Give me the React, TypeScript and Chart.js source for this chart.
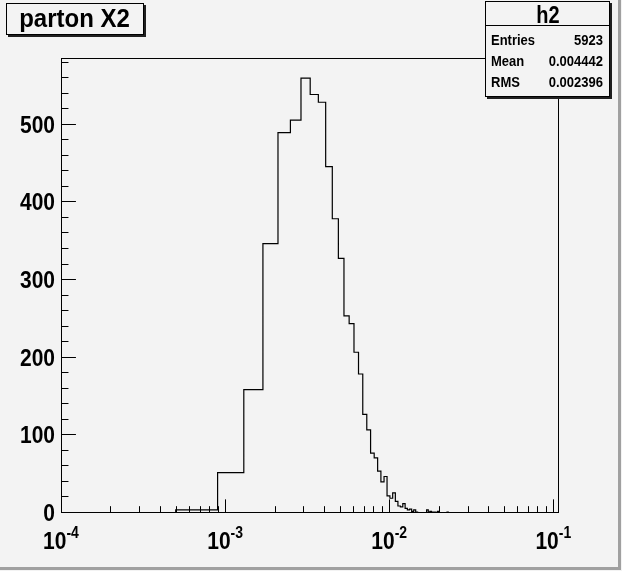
import { useEffect, useRef } from "react";
import { Chart, registerables } from "chart.js";

Chart.register(...registerables);

// Histogram binning (uniform bins) and contents
const binStart = 0.0001;
const binWidth = 0.0004;
const counts = [
  0, 4, 52, 159, 347, 490, 506, 560, 539, 529, 446, 379, 328, 254, 244, 207,
  179, 127, 107, 77, 71, 54, 40, 47, 22, 19, 26, 15, 9, 8, 12, 6, 4, 5, 2, 4,
  1, 0, 0, 0, 0, 0, 4, 1, 2, 1, 1, 1, 0, 2, 0, 0, 0, 0, 0, 0, 1, 0,
];
const yMajorTicks = [0, 100, 200, 300, 400, 500];
const yMinorStep = 20;
const xDecades = [-4, -3, -2, -1];
const xMin = 1e-4;
const xMax = 0.1083;
const yMax = 586;
const titleText = "parton X2";
const statsTitle = "h2";
const statsLabels = ["Entries", "Mean", "RMS"];
const statsValues = ["5923", "0.004442", "0.002396"];

const FONT = '"Liberation Sans", Arial, Helvetica, sans-serif';
const BG = "#f3f3f3";
const SY = 1.15;

function txt(
  ctx: CanvasRenderingContext2D,
  s: string,
  x: number,
  y: number,
  size: number,
  align: CanvasTextAlign,
  sy = SY
) {
  ctx.save();
  ctx.font = `bold ${size}px ${FONT}`;
  ctx.textAlign = align;
  ctx.textBaseline = "alphabetic";
  ctx.translate(x, y);
  ctx.scale(1, sy);
  ctx.fillText(s, 0, 0);
  ctx.restore();
}

const rootDecor = {
  id: "rootDecor",
  beforeDraw(chart: any) {
    const ctx = chart.ctx as CanvasRenderingContext2D;
    ctx.save();
    ctx.fillStyle = BG;
    ctx.fillRect(0, 0, chart.width, chart.height);
    ctx.fillStyle = "#a0a0a0";
    ctx.fillRect(618, 0, 3, 569);
    ctx.fillRect(0, 567, 621, 3);
    ctx.restore();
  },
  afterDraw(chart: any) {
    const ctx = chart.ctx as CanvasRenderingContext2D;
    const { left, right, top, bottom } = chart.chartArea;
    const xs = chart.scales.x;
    const ys = chart.scales.y;
    ctx.save();
    ctx.strokeStyle = "#000";
    ctx.fillStyle = "#000";
    ctx.lineWidth = 1;

    ctx.strokeRect(left + 0.5, top + 0.5, right - left - 1, bottom - top - 1);

    const plotW = right - left;
    const plotH = bottom - top;
    ctx.beginPath();
    for (let v = 0; v <= yMax; v += yMinorStep) {
      const py = Math.round(ys.getPixelForValue(v)) - 0.5;
      const len = v % 100 === 0 ? plotW * 0.03 : plotW * 0.015;
      ctx.moveTo(left, py);
      ctx.lineTo(left + len, py);
    }
    for (const d of xDecades) {
      for (let m = 1; m <= 9; m++) {
        const val = m * Math.pow(10, d);
        if (val < xMin || val > xMax) continue;
        const px = Math.round(xs.getPixelForValue(val)) + 0.5;
        const len = m === 1 ? plotH * 0.03 : plotH * 0.015;
        ctx.moveTo(px, bottom);
        ctx.lineTo(px, bottom - len);
      }
    }
    ctx.stroke();

    // y labels
    for (const v of yMajorTicks) {
      const py = ys.getPixelForValue(v);
      txt(ctx, String(v), left - 6, py + 8, 21, "right");
    }

    // x labels 10^d
    for (const d of xDecades) {
      const px = xs.getPixelForValue(Math.pow(10, d));
      ctx.font = `bold 21px ${FONT}`;
      const wb = ctx.measureText("10").width;
      ctx.font = `bold 14px ${FONT}`;
      const expTxt = String(d);
      const we = ctx.measureText(expTxt).width;
      const x0 = px - (wb + we) / 2;
      txt(ctx, "10", x0, 549, 21, "left");
      txt(ctx, expTxt, x0 + wb, 538, 14, "left");
    }

    // title box
    const tb = { x: 6, y: 3, w: 137, h: 31 };
    ctx.fillStyle = "#202020";
    ctx.fillRect(tb.x + 2, tb.y + 2, tb.w + 1, tb.h + 1);
    ctx.fillStyle = BG;
    ctx.fillRect(tb.x, tb.y, tb.w, tb.h);
    ctx.strokeRect(tb.x + 0.5, tb.y + 0.5, tb.w, tb.h);
    ctx.fillStyle = "#000";
    txt(ctx, titleText, tb.x + tb.w / 2 + 0, 27, 24, "center", 1.1);

    // stats box
    const sb = { x: 485, y: 1, w: 124, h: 95 };
    ctx.fillStyle = "#202020";
    ctx.fillRect(sb.x + 2, sb.y + 2, sb.w + 1, sb.h + 1);
    ctx.fillStyle = BG;
    ctx.fillRect(sb.x, sb.y, sb.w, sb.h);
    ctx.strokeRect(sb.x + 0.5, sb.y + 0.5, sb.w, sb.h);
    ctx.beginPath();
    ctx.moveTo(sb.x, 25.5);
    ctx.lineTo(sb.x + sb.w, 25.5);
    ctx.stroke();
    ctx.fillStyle = "#000";
    txt(ctx, statsTitle, sb.x + sb.w / 2 + 1, 23, 20, "center");
    statsLabels.forEach((lab, i) => {
      const by = 45 + i * 21;
      txt(ctx, lab, sb.x + 6, by, 13, "left");
      txt(ctx, statsValues[i], sb.x + sb.w - 6, by, 13, "right");
    });
    ctx.restore();
  },
};

export default function App() {
  const ref = useRef<HTMLCanvasElement | null>(null);
  useEffect(() => {
    document.body.style.margin = "0";
    const canvas = ref.current;
    if (!canvas) return;
    const points = counts.map((c, i) => ({ x: binStart + i * binWidth, y: c }));
    points.push({ x: binStart + counts.length * binWidth, y: 0 });
    points.push({ x: xMax, y: 0 });
    const chart = new Chart(canvas, {
      type: "line",
      data: {
        datasets: [
          {
            data: points,
            borderColor: "#000",
            borderWidth: 1.2,
            pointRadius: 0,
            stepped: "before",
            fill: false,
            tension: 0,
          },
        ],
      },
      options: {
        animation: false,
        responsive: false,
        devicePixelRatio: 1,
        layout: { padding: { left: 61, right: 63, top: 58, bottom: 58 } },
        plugins: { legend: { display: false }, tooltip: { enabled: false } },
        scales: {
          x: { type: "logarithmic", min: xMin, max: xMax, display: false },
          y: { type: "linear", min: 0, max: yMax, display: false },
        },
      },
      plugins: [rootDecor],
    });
    return () => chart.destroy();
  }, []);
  return (
    <div style={{ width: 622, height: 571 }}>
      <canvas ref={ref} width={622} height={571} style={{ display: "block" }} />
    </div>
  );
}
